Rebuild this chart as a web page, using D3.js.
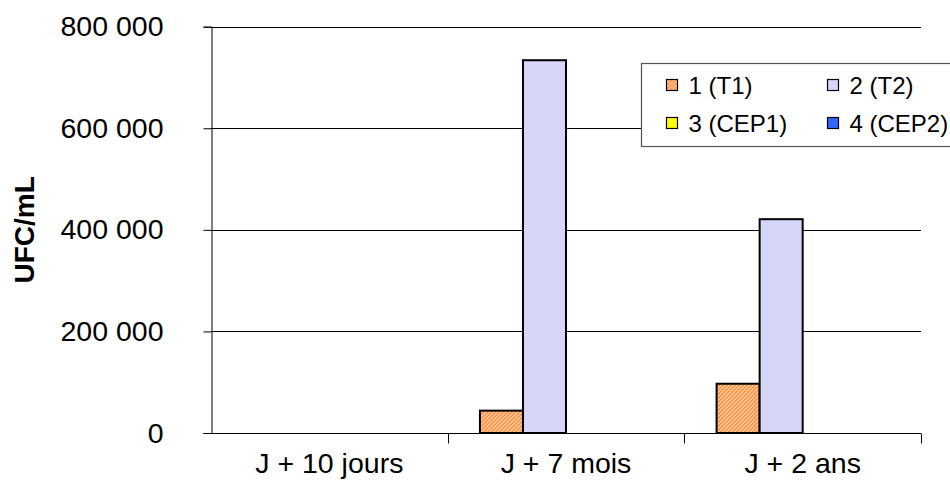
<!DOCTYPE html>
<html>
<head>
<meta charset="utf-8">
<script src="https://cdn.jsdelivr.net/npm/d3@7"></script>
<style>
  html, body { margin: 0; padding: 0; background: #fff; }
  svg { display: block; font-family: "Liberation Sans", Arial, sans-serif; }
</style>
</head>
<body>
<svg id="chart" width="950" height="489"></svg>
<script>
// Time points after treatment
const categories = ["J + 10 jours", "J + 7 mois", "J + 2 ans"];
// Series (sample points)
const seriesNames = ["1 (T1)", "2 (T2)", "3 (CEP1)", "4 (CEP2)"];
// UFC/mL for each series, one value per time point
const serieT1 = [0, 44000, 97000];
const serieT2 = [0, 734000, 421000];
const serieCEP1 = [0, 0, 0];
const serieCEP2 = [0, 0, 0];
const yTicks = [0, 200000, 400000, 600000, 800000];

const values = [serieT1, serieT2, serieCEP1, serieCEP2];

const svg = d3.select("#chart");
const margin = { left: 211, right: 29, top: 26.7, bottom: 56 };
const W = 950, H = 489;

// Fill patterns
const defs = svg.append("defs");
const pOrange = defs.append("pattern")
  .attr("id", "patOrange").attr("patternUnits", "userSpaceOnUse")
  .attr("width", 4).attr("height", 4);
pOrange.append("rect").attr("width", 4).attr("height", 4).attr("fill", "#ffe4cc");
pOrange.append("path")
  .attr("d", "M-1,1 L1,-1 M0,4 L4,0 M3,5 L5,3")
  .attr("stroke", "#ff8a33").attr("stroke-width", 1.7);

const pBlue = defs.append("pattern")
  .attr("id", "patBlue").attr("patternUnits", "userSpaceOnUse")
  .attr("width", 4).attr("height", 4);
pBlue.append("rect").attr("width", 4).attr("height", 4).attr("fill", "#d8d8fb");
pBlue.append("rect").attr("x", 0).attr("y", 0).attr("width", 1).attr("height", 1).attr("fill", "#c4c4f0");
pBlue.append("rect").attr("x", 2).attr("y", 2).attr("width", 1).attr("height", 1).attr("fill", "#c4c4f0");

const fills = ["url(#patOrange)", "url(#patBlue)", "#ffff00", "#3366ff"];

const x = d3.scaleBand().domain(categories).range([margin.left, W - margin.right]).padding(0);
const bw = x.bandwidth();
const gapOuter = bw * 0.75 / 5.5;
const xs = d3.scaleBand().domain(seriesNames).range([gapOuter, bw - gapOuter]).padding(0);
const y = d3.scaleLinear().domain([0, 800000]).range([H - margin.bottom, margin.top]);

const locale = d3.formatLocale({ decimal: ",", thousands: " ", grouping: [3], currency: ["", "€"] });
const fmt = locale.format(",d");

// Horizontal grid lines
svg.append("g").selectAll("line")
  .data(yTicks.filter(d => d > 0))
  .join("line")
  .attr("x1", margin.left).attr("x2", W - margin.right)
  .attr("y1", d => Math.round(y(d)) + 0.5).attr("y2", d => Math.round(y(d)) + 0.5)
  .attr("stroke", "#000").attr("stroke-width", 1);

// Bars
const groups = svg.append("g").selectAll("g")
  .data(categories)
  .join("g")
  .attr("transform", c => `translate(${x(c)},0)`);

groups.selectAll("rect")
  .data((c, i) => seriesNames.map((s, k) => ({ s, k, v: values[k][i] })).filter(d => d.v > 0))
  .join("rect")
  .attr("x", d => xs(d.s))
  .attr("width", xs.bandwidth())
  .attr("y", d => y(d.v))
  .attr("height", d => y(0) - y(d.v))
  .attr("fill", d => fills[d.k])
  .attr("stroke", "#000").attr("stroke-width", 2);

// Y axis
const yAxis = svg.append("g")
  .attr("transform", `translate(${margin.left + 0.5},0)`)
  .call(d3.axisLeft(y).tickValues(yTicks).tickFormat(fmt).tickSize(8).tickPadding(40));
yAxis.select(".domain").attr("stroke", "#000").attr("stroke-width", 1);
yAxis.selectAll(".tick line").attr("stroke", "#000");
yAxis.selectAll("text").attr("font-size", 28.5).attr("fill", "#000")
  .attr("font-family", "Liberation Sans, Arial, sans-serif");

// X axis with ticks at category boundaries
const xAxisG = svg.append("g").attr("transform", `translate(0,${Math.round(y(0)) + 0.5})`);
xAxisG.append("line")
  .attr("x1", margin.left).attr("x2", W - margin.right)
  .attr("stroke", "#000");
xAxisG.selectAll("line.tk")
  .data(categories.slice(1).map(c => x(c)).concat([W - margin.right]))
  .join("line").attr("class", "tk")
  .attr("x1", d => Math.round(d) + 0.5).attr("x2", d => Math.round(d) + 0.5)
  .attr("y1", 0).attr("y2", 10)
  .attr("stroke", "#000");
xAxisG.selectAll("text")
  .data(categories)
  .join("text")
  .attr("x", c => x(c) + bw / 2)
  .attr("y", 39)
  .attr("text-anchor", "middle")
  .attr("font-size", 28.5)
  .attr("fill", "#000")
  .text(c => c);

// Axis title
svg.append("text")
  .attr("transform", `translate(34,${(margin.top + H - margin.bottom) / 2}) rotate(-90)`)
  .attr("text-anchor", "middle")
  .attr("font-size", 28)
  .attr("font-weight", "bold")
  .attr("fill", "#000")
  .text("UFC/mL");

// Legend
const leg = svg.append("g").attr("transform", "translate(641.5,63.5)");
leg.append("rect").attr("width", 330).attr("height", 83)
  .attr("fill", "#fff").attr("stroke", "#555").attr("stroke-width", 1.2);
const legItems = leg.selectAll("g.item")
  .data(seriesNames)
  .join("g").attr("class", "item")
  .attr("transform", (d, i) => `translate(${i % 2 === 0 ? 25 : 186},${i < 2 ? 22 : 60})`);
legItems.append("rect")
  .attr("x", 0).attr("y", -6).attr("width", 11).attr("height", 11)
  .attr("fill", (d, i) => fills[i])
  .attr("stroke", "#000").attr("stroke-width", 1.2);
legItems.append("text")
  .attr("x", 22).attr("y", 0).attr("dy", "0.35em")
  .attr("font-size", 24).attr("fill", "#000")
  .text(d => d);
</script>
</body>
</html>
